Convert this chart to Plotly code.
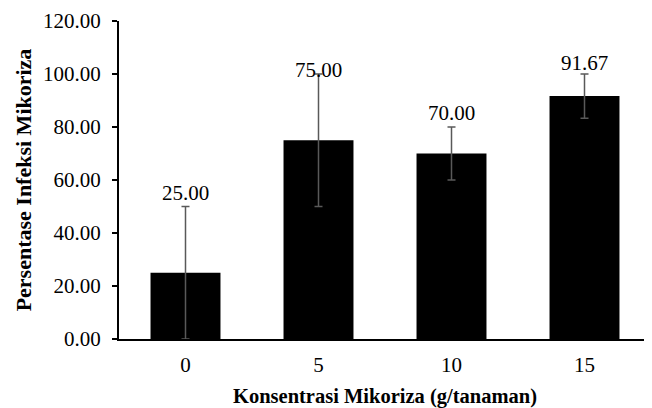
import plotly.graph_objects as go

categories = ["0", "5", "10", "15"]
values = [25.00, 75.00, 70.00, 91.67]
errors = [25.00, 25.00, 10.00, 8.33]
value_labels = ["25.00", "75.00", "70.00", "91.67"]
label_shift = [0, -10, 0, -3]

x_title = "Konsentrasi Mikoriza (g/tanaman)"
y_title = "Persentase Infeksi Mikoriza"

FONT = "Liberation Serif, Times New Roman, serif"

fig = go.Figure()
fig.add_trace(go.Bar(
    x=categories,
    y=values,
    marker=dict(color="#000000", line=dict(width=0)),
    error_y=dict(type="data", array=errors, visible=True,
                 color="#595959", thickness=1.5, width=4),
    hoverinfo="skip",
))

for i, (v, e, t, s) in enumerate(zip(values, errors, value_labels, label_shift)):
    fig.add_annotation(x=i, y=v + e, text=t, showarrow=False,
                       yanchor="bottom", xanchor="center", yshift=s,
                       font=dict(family=FONT, size=21, color="#000000"))

# page body has an 8px margin, so the figure is 8px smaller and offsets compensated
fig.update_layout(
    width=644, height=400,
    margin=dict(l=111, r=1, t=10, b=68),
    paper_bgcolor="white", plot_bgcolor="white",
    bargap=0.474,
    showlegend=False,
    font=dict(family=FONT, size=21, color="#000000"),
)
fig.update_xaxes(
    type="category",
    showline=True, linecolor="#000000", linewidth=2,
    ticks="", showgrid=False, zeroline=False,
    ticklabelstandoff=6,
    tickfont=dict(family=FONT, size=21),
    title=dict(text="<b>" + x_title + "</b>",
               font=dict(family=FONT, size=20.5), standoff=15),
)
fig.update_yaxes(
    range=[0, 120], dtick=20, tickformat=".2f",
    showline=True, linecolor="#000000", linewidth=2,
    ticks="outside", ticklen=5, tickcolor="#000000", tickwidth=2,
    ticklabelstandoff=7, ticklabeloverflow="allow",
    showgrid=False, zeroline=False,
    tickfont=dict(family=FONT, size=21),
    title=dict(text="<b>" + y_title + "</b>",
               font=dict(family=FONT, size=22), standoff=5),
)

fig.write_html("out.html")
